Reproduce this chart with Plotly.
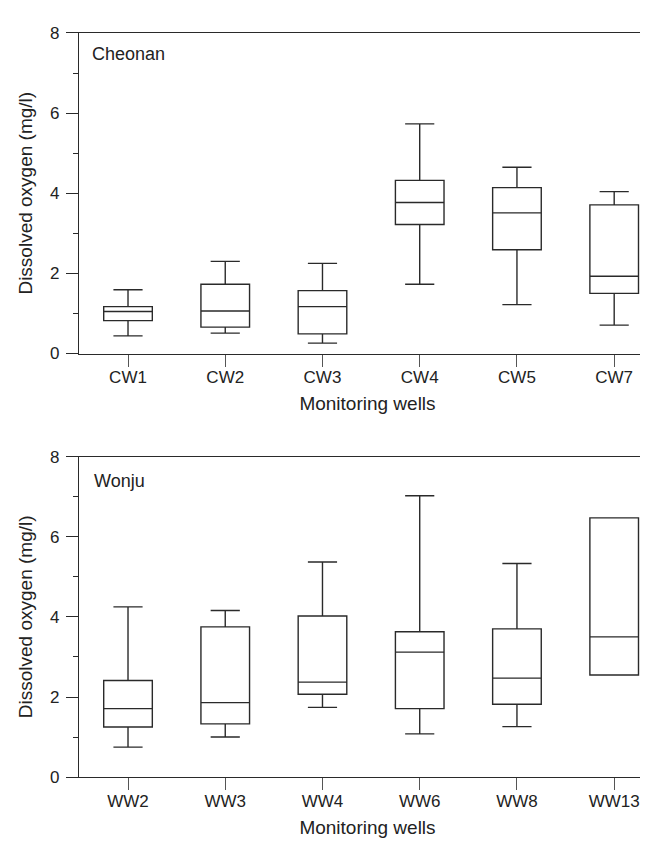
import plotly.graph_objects as go

# Cheonan (top panel)
cw_wells = ["CW1", "CW2", "CW3", "CW4", "CW5", "CW7"]
cw_lower = [0.44, 0.51, 0.26, 1.73, 1.22, 0.71]
cw_q1 = [0.82, 0.66, 0.49, 3.22, 2.59, 1.50]
cw_median = [1.05, 1.06, 1.17, 3.77, 3.51, 1.93]
cw_q3 = [1.17, 1.73, 1.57, 4.32, 4.14, 3.71]
cw_upper = [1.59, 2.30, 2.25, 5.73, 4.65, 4.04]

# Wonju (bottom panel)
ww_wells = ["WW2", "WW3", "WW4", "WW6", "WW8", "WW13"]
ww_lower = [0.75, 1.00, 1.74, 1.08, 1.26, 2.55]
ww_q1 = [1.25, 1.33, 2.07, 1.71, 1.82, 2.55]
ww_median = [1.71, 1.86, 2.37, 3.12, 2.47, 3.50]
ww_q3 = [2.41, 3.75, 4.02, 3.63, 3.70, 6.47]
ww_upper = [4.25, 4.16, 5.37, 7.02, 5.33, 6.47]

y_ticks = [0, 2, 4, 6, 8]

FONT = "Arial, 'Liberation Sans', Helvetica, sans-serif"
LINE = "#2a2a2a"

fig = go.Figure()

fig.add_trace(go.Box(
    x=cw_wells, q1=cw_q1, median=cw_median, q3=cw_q3,
    lowerfence=cw_lower, upperfence=cw_upper,
    width=0.5, whiskerwidth=0.6, boxpoints=False,
    line=dict(color=LINE, width=1.4), fillcolor="rgba(255,255,255,0)",
    xaxis="x", yaxis="y", showlegend=False, hoverinfo="skip"))

fig.add_trace(go.Box(
    x=ww_wells, q1=ww_q1, median=ww_median, q3=ww_q3,
    lowerfence=ww_lower, upperfence=ww_upper,
    width=0.5, whiskerwidth=0.6, boxpoints=False,
    line=dict(color=LINE, width=1.4), fillcolor="rgba(255,255,255,0)",
    xaxis="x2", yaxis="y2", showlegend=False, hoverinfo="skip"))

W, H = 648, 842
x_dom = [71 / W, 1.0]
top_dom = [1 - 344.3 / H, 1 - 16.3 / H]
bot_dom = [1 - 777.7 / H, 1 - 449.7 / H]

def xaxis_cfg(anchor):
    return dict(
        domain=x_dom, anchor=anchor, type="category",
        range=[-0.504, 5.43],
        showline=True, linecolor=LINE, linewidth=1.4, mirror=True,
        ticks="outside", ticklen=12, tickwidth=1.3, tickcolor="#555",
        ticklabelstandoff=-4,
        showgrid=False, zeroline=False,
        tickfont=dict(family=FONT, size=17, color="#222"),
        title=dict(text="Monitoring wells", standoff=10,
                   font=dict(family=FONT, size=19, color="#222")),
    )

def yaxis_cfg(anchor, dom):
    return dict(
        domain=dom, anchor=anchor, range=[0, 8],
        tickvals=y_ticks,
        showline=True, linecolor=LINE, linewidth=1.4,
        ticks="outside", ticklen=12, tickwidth=1.3, tickcolor=LINE,
        ticklabelstandoff=3,
        minor=dict(dtick=1, tick0=0, ticks="outside", ticklen=5,
                   tickwidth=1.3, tickcolor=LINE, showgrid=False),
        showgrid=False, zeroline=False,
        tickfont=dict(family=FONT, size=17, color="#222"),
        title=dict(text="Dissolved oxygen (mg/l)", standoff=12,
                   font=dict(family=FONT, size=19, color="#222")),
    )

fig.update_layout(
    width=W, height=H,
    margin=dict(l=0, r=0, t=0, b=0),
    paper_bgcolor="white", plot_bgcolor="white",
    xaxis=xaxis_cfg("y"), yaxis=yaxis_cfg("x", top_dom),
    xaxis2=xaxis_cfg("y2"), yaxis2=yaxis_cfg("x2", bot_dom),
    annotations=[
        dict(text="Cheonan", xref="paper", yref="paper",
             x=82 / W, y=1 - 38 / H, xanchor="left", yanchor="middle",
             showarrow=False, font=dict(family=FONT, size=18, color="#222")),
        dict(text="Wonju", xref="paper", yref="paper",
             x=84 / W, y=1 - 475 / H, xanchor="left", yanchor="middle",
             showarrow=False, font=dict(family=FONT, size=18, color="#222")),
    ],
)

fig.write_html("out.html")
